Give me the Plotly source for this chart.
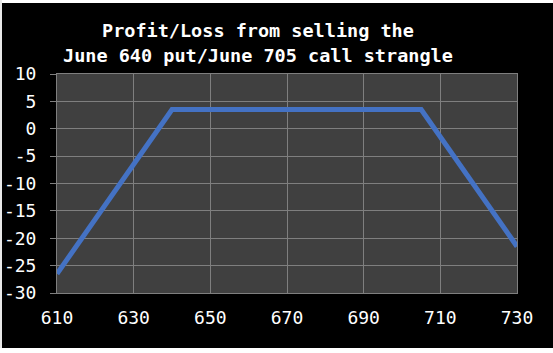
import plotly.graph_objects as go

# Data
strike_prices = [610, 640, 705, 730]
profit_loss = [-26.5, 3.5, 3.5, -21.5]
x_ticks = [610, 630, 650, 670, 690, 710, 730]
y_ticks = [-30, -25, -20, -15, -10, -5, 0, 5, 10]
y_tick_labels = ["-30", "-25", "-20", "-15", "-10", "-5", "0", "5", "10"]
title_lines = ["Profit/Loss from selling the", "June 640 put/June 705 call strangle"]

W, H = 553, 353
L, R, T, B = 57, 36, 74, 60
pw, ph = W - L - R, H - T - B

def px_x(p):
    return (p - L) / pw

def px_y(p):
    return (H - B - p) / ph

FONT = "DejaVu Sans Mono"
GRID = "#7f7f7f"

fig = go.Figure()
fig.add_trace(go.Scatter(x=strike_prices, y=profit_loss, mode="lines",
                         line=dict(color="#4472C4", width=5), hoverinfo="skip"))

shapes = []
# white edge strips (top, left, bottom)
shapes.append(dict(type="rect", xref="paper", yref="paper", layer="above",
                   x0=px_x(-5), x1=px_x(W + 5), y0=px_y(3), y1=px_y(-5),
                   fillcolor="white", line_width=0))
shapes.append(dict(type="rect", xref="paper", yref="paper", layer="above",
                   x0=px_x(-5), x1=px_x(2), y0=px_y(H + 5), y1=px_y(-5),
                   fillcolor="#e8e8e8", line_width=0))
shapes.append(dict(type="rect", xref="paper", yref="paper", layer="above",
                   x0=px_x(-5), x1=px_x(W + 5), y0=px_y(H + 5), y1=px_y(348),
                   fillcolor="white", line_width=0))

annotations = []
for i, (line, cy) in enumerate(zip(title_lines, [30, 56])):
    annotations.append(dict(text="<b>" + line + "</b>", showarrow=False,
                            xref="paper", yref="paper",
                            x=px_x(258), y=px_y(cy), xanchor="center", yanchor="middle",
                            font=dict(family=FONT, size=18.5, color="white")))

fig.update_layout(
    width=W, height=H,
    margin=dict(l=L, r=R, t=T, b=B, pad=0, autoexpand=False),
    paper_bgcolor="black",
    plot_bgcolor="#404040",
    showlegend=False,
    shapes=shapes,
    annotations=annotations,
    xaxis=dict(range=[610, 730], tickvals=x_ticks, showgrid=True, automargin=False,
               gridcolor=GRID, gridwidth=1, zeroline=False,
               showline=True, linecolor=GRID, linewidth=1, mirror=True,
               ticks="", ticklabelstandoff=8,
               tickfont=dict(family=FONT, size=18, color="white")),
    yaxis=dict(range=[-30, 10], tickvals=y_ticks, ticktext=y_tick_labels, automargin=False,
               showgrid=True, gridcolor=GRID, gridwidth=1, zeroline=False,
               showline=True, linecolor=GRID, linewidth=1, mirror=True,
               ticks="outside", ticklen=6, tickcolor=GRID, ticklabelstandoff=10,
               tickfont=dict(family=FONT, size=18, color="white")),
)

fig.write_html("out.html")
